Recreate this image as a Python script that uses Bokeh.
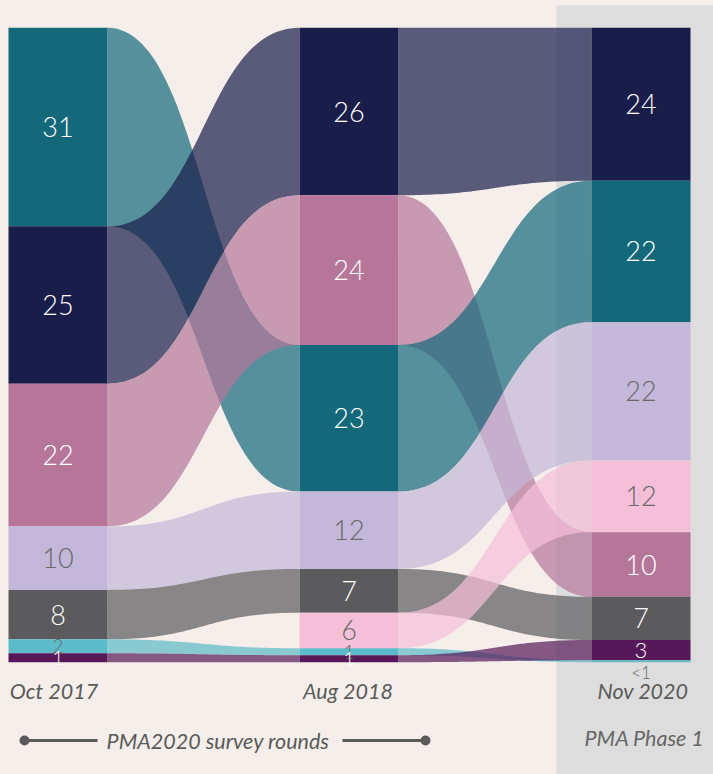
import numpy as np
from bokeh.plotting import figure
from bokeh.models import Range1d, ColumnDataSource
from bokeh.core.properties import value
from bokeh.embed import file_html
from bokeh.resources import INLINE

# ---------------- data ----------------
rounds = ["Oct 2017", "Aug 2018", "Nov 2020"]

# categories in stacking order (top -> bottom) per survey round, with shares (%)
oct17_cats = ["teal", "navy", "mauve", "lavender", "grey", "cyan", "purple"]
oct17_vals = [31.3, 24.8, 22.5, 10.0, 7.8, 2.2, 1.4]
oct17_labels = ["31", "25", "22", "10", "8", "2", "1"]

aug18_cats = ["navy", "mauve", "teal", "lavender", "grey", "pink", "cyan", "purple"]
aug18_vals = [26.4, 23.6, 23.1, 12.2, 6.9, 5.6, 1.1, 1.1]
aug18_labels = ["26", "24", "23", "12", "7", "6", "1", "1"]

nov20_cats = ["navy", "teal", "lavender", "pink", "mauve", "grey", "purple", "cyan"]
nov20_vals = [24.1, 22.3, 21.8, 11.3, 10.2, 6.8, 3.2, 0.3]
nov20_labels = ["24", "22", "22", "12", "10", "7", "3", "<1"]

fill_colors = {
    "teal": "#13687a", "navy": "#181d4a", "mauve": "#b5769a",
    "lavender": "#c3b8d9", "grey": "#5b5a5c", "cyan": "#5bbbc8",
    "purple": "#561858", "pink": "#f6bfd8",
}
label_colors = {
    "teal": "#ffffff", "navy": "#ffffff", "mauve": "#ffffff",
    "lavender": "#6a6a6a", "grey": "#ffffff", "cyan": "#6a6a6a",
    "purple": "#ffffff", "pink": "#6a6a6a",
}

series_title = "PMA2020 survey rounds"
phase_title = "PMA Phase 1"

# ---------------- layout ----------------
BG = "#f5eeeb"
PANEL = "#dcdddc"
TEXT = "#5a5a5a"
NUM_FONT = "Lato Light, Lato"
W, H = 713, 774
TOP_PX, BOT_PX = 27.3, 661.7          # page-pixel extent of the bars
PX = (BOT_PX - TOP_PX) / 100.0        # pixels per percentage point


def py(page_y):
    return 100 - (page_y - TOP_PX) / PX


col_left = [8, 299, 591]
BAR_W = 99

p = figure(width=W, height=H, output_backend="svg", toolbar_location=None,
           x_range=Range1d(0, W), y_range=Range1d(py(H), py(0)),
           x_axis_type=None, y_axis_type=None, min_border=0,
           background_fill_color=BG, border_fill_color=BG, outline_line_color=None)
p.grid.visible = False

# grey panel for PMA Phase 1
p.quad(left=[556], right=[W], bottom=[py(H)], top=[py(5)],
       fill_color=PANEL, line_color=None)

columns = [
    (oct17_cats, oct17_vals, oct17_labels),
    (aug18_cats, aug18_vals, aug18_labels),
    (nov20_cats, nov20_vals, nov20_labels),
]

# stacked positions
stacks = []
for cats, vals, labels in columns:
    vals = np.array(vals, dtype=float)
    tops = 100 - np.concatenate([[0], np.cumsum(vals)[:-1]])
    bottoms = tops - vals
    stacks.append({c: (t, b) for c, t, b in zip(cats, tops, bottoms)})


def bez(x0, x1, y0, y1, n=60):
    t = np.linspace(0, 1, n)
    xm = (x0 + x1) / 2
    x = (1 - t) ** 3 * x0 + 3 * (1 - t) ** 2 * t * xm + 3 * (1 - t) * t ** 2 * xm + t ** 3 * x1
    y = (1 - t) ** 3 * y0 + 3 * (1 - t) ** 2 * t * y0 + 3 * (1 - t) * t ** 2 * y1 + t ** 3 * y1
    return x, y


# flows
fxs, fys, fcs = [], [], []
for i in range(2):
    left_stack, right_stack = stacks[i], stacks[i + 1]
    x0 = col_left[i] + BAR_W
    x1 = col_left[i + 1]
    for cat in columns[i][0]:
        if cat not in right_stack:
            continue
        lt, lb = left_stack[cat]
        rt, rb = right_stack[cat]
        tx, ty = bez(x0, x1, lt, rt)
        bx, by = bez(x0, x1, lb, rb)
        fxs.append(list(tx) + list(bx[::-1]))
        fys.append(list(ty) + list(by[::-1]))
        fcs.append(fill_colors[cat])
p.patches(xs=fxs, ys=fys, fill_color=fcs, fill_alpha=0.7, line_color=None)

# bars and labels
q = dict(left=[], right=[], top=[], bottom=[], color=[])
lab = dict(x=[], y=[], text=[], color=[], size=[])
lab_below = dict(x=[], y=[], text=[], color=[], size=[])
for i, (cats, vals, labels) in enumerate(columns):
    for cat, v, l in zip(cats, vals, labels):
        t, b = stacks[i][cat]
        q["left"].append(col_left[i]); q["right"].append(col_left[i] + BAR_W)
        q["top"].append(t); q["bottom"].append(b)
        q["color"].append(fill_colors[cat])
        size = "27px" if v >= 5 else ("22px" if v >= 3 else "19px")
        target = lab_below if v < 1 else lab
        target["x"].append(col_left[i] + BAR_W / 2)
        target["y"].append(b if v < 1 else (t + b) / 2)
        target["text"].append(l)
        target["color"].append(label_colors[cat])
        target["size"].append("17px" if v < 1 else size)

p.quad(source=ColumnDataSource(q), left="left", right="right", top="top",
       bottom="bottom", fill_color="color", line_color=None)
p.text(source=ColumnDataSource(lab), x="x", y="y", text="text",
       text_color="color", text_font_size="size", text_font=value(NUM_FONT),
       text_align="center", text_baseline="middle")
p.text(source=ColumnDataSource(lab_below), x="x", y="y", text="text",
       text_color="color", text_font_size="size", text_font=value(NUM_FONT),
       text_align="center", text_baseline="top")

# round labels
p.text(x=[53.5, 347.5, 642.5], y=[py(690)] * 3, text=rounds,
       text_color=TEXT, text_font_size="21.5px", text_font=value("Lato"),
       text_font_style="italic", text_align="center", text_baseline="middle")

# bottom legend: line with dots + titles
p.line(x=[24, 97], y=[py(740)] * 2, line_color=TEXT, line_width=3)
p.line(x=[342, 425], y=[py(740)] * 2, line_color=TEXT, line_width=3)
p.scatter(x=[24, 425], y=[py(740)] * 2, size=10, fill_color=TEXT,
          line_color=None)
p.text(x=[217.5], y=[py(740)], text=[series_title], text_color=TEXT,
       text_font_size="21.5px", text_font=value("Lato"), text_font_style="italic",
       text_align="center", text_baseline="middle")
p.text(x=[644], y=[py(737)], text=[phase_title], text_color="#666666",
       text_font_size="21.5px", text_font=value("Lato"), text_font_style="italic",
       text_align="center", text_baseline="middle")

html = file_html(p, INLINE, title="PMA survey rounds")
html = html.replace("</head>", "<style>body{background:%s;margin:0;}</style></head>" % BG, 1)
open("out.html", "w").write(html)
